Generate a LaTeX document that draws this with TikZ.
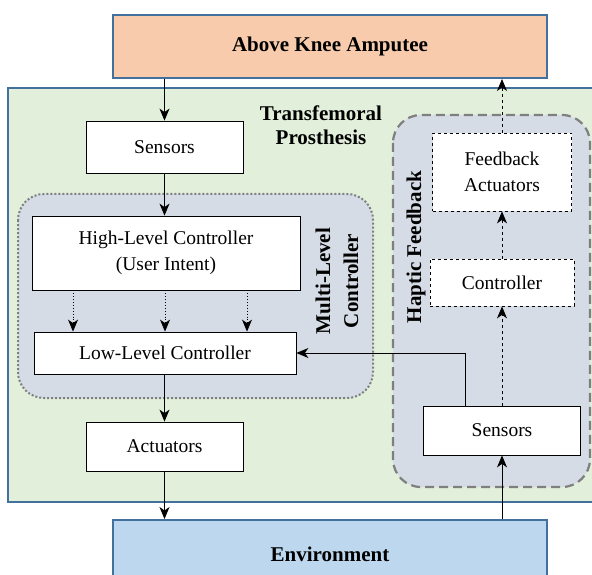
\documentclass[tikz,border=0pt]{standalone}
\usepackage{fontspec}
\setmainfont{Liberation Serif}
\usetikzlibrary{arrows.meta,calc}
\definecolor{peach}{HTML}{F8CBAD}
\definecolor{envblue}{HTML}{BDD7EE}
\definecolor{frameblue}{HTML}{41719C}
\definecolor{lightgreen}{HTML}{E2EFDA}
\definecolor{groupfill}{HTML}{D6DCE5}
\definecolor{groupline}{HTML}{7F7F7F}
\tikzset{
  x=1pt,y=-1pt,
  outerbox/.style={draw=frameblue,line width=2pt,font=\fontsize{21}{24}\selectfont\bfseries,inner sep=0pt},
  blockbox/.style={draw=black,line width=0.8pt,fill=white,font=\fontsize{19.5}{26}\selectfont,align=center,inner sep=0pt},
  dashbox/.style={blockbox,dashed},
  grouplabel/.style={font=\fontsize{21}{28}\selectfont\bfseries,align=center,inner sep=0pt},
  arr/.style={-{Stealth[length=12pt,width=10pt,inset=3.5pt]},line width=0.9pt},
}
\begin{document}
\begin{tikzpicture}
\useasboundingbox (0,0) rectangle (592,575);
\clip (0,0) rectangle (592,575);
% containers
\draw[draw=frameblue,line width=2pt,fill=lightgreen] (8,88) rectangle (610,502);
\draw[draw=groupline,line width=2pt,dotted,fill=groupfill,rounded corners=26pt] (18,194) rectangle (373,398);
\draw[draw=groupline,line width=2.2pt,dash pattern=on 9pt off 5pt,fill=groupfill,rounded corners=28pt] (393,115) rectangle (590,487);
% outer boxes
\node[outerbox,fill=peach,minimum width=434pt,minimum height=63pt] (top) at (330,46.5) {Above Knee Amputee};
\node[outerbox,fill=envblue,minimum width=434pt,minimum height=70pt] (env) at (330,555) {\raisebox{2pt}{Environment}};
% labels
\node[grouplabel] (tp) at (321,125) {Transfemoral\\[-4pt]Prosthesis};
\node[grouplabel,rotate=90] (mlc) at (337,281) {Multi-Level\\Controller};
\node[grouplabel,rotate=90] (hf) at (416,247) {Haptic Feedback};
% blocks
\node[blockbox,minimum width=157pt,minimum height=52pt] (sl) at (164.5,147) {Sensors};
\node[blockbox,minimum width=268pt,minimum height=74pt] (hlc) at (166,253) {High-Level Controller\\(User Intent)};
\node[blockbox,minimum width=262pt,minimum height=42pt] (llc) at (165,353) {Low-Level Controller};
\node[blockbox,minimum width=157pt,minimum height=49pt] (act) at (164.5,446.5) {Actuators};
\node[dashbox,minimum width=139pt,minimum height=78pt] (fa) at (502,172) {Feedback\\Actuators};
\node[dashbox,minimum width=144pt,minimum height=47pt] (ctrl) at (502,282.5) {Controller};
\node[blockbox,minimum width=157pt,minimum height=49pt] (sr) at (502,430.5) {Sensors};
% connectors
\draw[arr] (top.south -| sl.north) -- (sl.north);
\draw[arr] (sl.south) -- (sl.south |- hlc.north);
\foreach \dx in {-93,-1,81}{
  \draw[arr,dotted] ([xshift=\dx pt]hlc.south) -- ([xshift=\dx pt]hlc.south |- llc.north);
}
\draw[arr] (llc.south -| act.north) -- (act.north);
\draw[arr] (act.south) -- (act.south |- env.north);
\draw[arr] ([xshift=-37pt]sr.north) |- (llc.east);
\draw[arr,dashed] (sr.north) -- (ctrl.south);
\draw[arr,dashed] (ctrl.north) -- (fa.south);
\draw[arr,dashed] (fa.north) -- (fa.north |- top.south);
\draw[arr] (env.north -| sr.south) -- (sr.south);
\end{tikzpicture}
\end{document}
